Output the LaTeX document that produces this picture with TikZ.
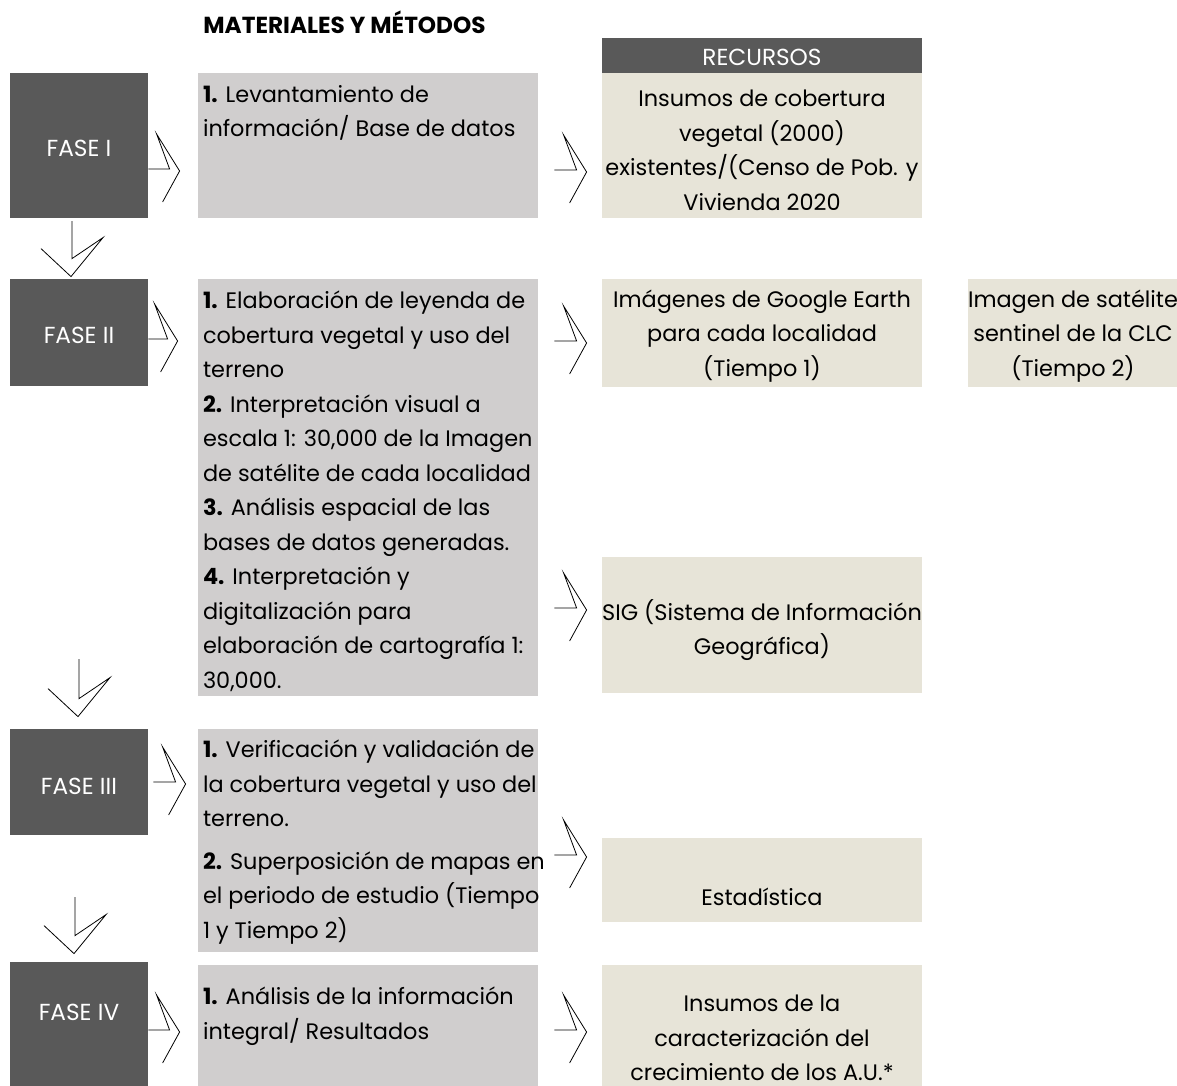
\documentclass[tikz,border=0pt]{standalone}
\usepackage{fontspec}
\setmainfont{Poppins}
\usepackage{tikz}
\usetikzlibrary{calc, fit, positioning}
\definecolor{fasegrey}{HTML}{595959}
\definecolor{taskgrey}{HTML}{D0CECE}
\definecolor{resbeige}{HTML}{E7E4D8}
\tikzset{
    fasenode/.style = {draw=none, fill=fasegrey, rectangle, inner sep=0pt},
    tasknode/.style = {draw=none, fill=taskgrey, rectangle, inner sep=0pt},
    resnode/.style = {draw=none, fill=resbeige, rectangle, inner sep=0pt},
    textnode/.style = {draw=none, fill=none, rectangle, inner sep=0pt, align=left,
      anchor=north west, font=\fontsize{11.2}{17.25}\selectfont},
    centertext/.style = {draw=none, fill=none, rectangle, inner sep=0pt, align=center,
      anchor=center, font=\fontsize{11.2}{17.25}\selectfont},
    whitetext/.style = {centertext, text=white, font=\fontsize{11.6}{14}\selectfont},
    chev/.style = {line width=0.9pt, to path={-- ($(\tikztostart -| \tikztotarget.west)+(-#1,0)$)
      -- ++(-13,-35) -- ++(23,37) -- ++(-17,31)}},
    chev/.default = 26,
    chevdown/.style = {line width=0.9pt, to path={-- ($(\tikztostart |- \tikztotarget.north)+(0,-#1)$)
      -- ++(31,-21) -- ++(-32,39) -- ++(-30,-28)}},
    chevdown/.default = 22
}

\begin{document}
\begin{tikzpicture}[x=0.5pt, y=-0.5pt]
\fill [white] (0,0) rectangle (1177,1086);
\useasboundingbox (0,0) rectangle (1177,1086);

\node [textnode, anchor=base west, font=\bfseries\fontsize{11.6}{14}\selectfont, name=title] at (203,34) {MATERIALES Y MÉTODOS};

% fases
\node [fasenode, fit={(10,73) (148,218)}, name=F1] {};
\node [fasenode, fit={(10,279) (148,386)}, name=F2] {};
\node [fasenode, fit={(10,729) (148,835)}, name=F3] {};
\node [fasenode, fit={(10,962) (148,1092)}, name=F4] {};
\node [whitetext, name=F1t] at ($(F1.center)+(0,3)$) {FASE I};
\node [whitetext, name=F2t] at ($(F2.center)+(0,3)$) {FASE II};
\node [whitetext, name=F3t] at ($(F3.center)+(0,4)$) {FASE III};
\node [whitetext, name=F4t] at ($(F4.north)+(0,51)$) {FASE IV};

% actividades
\node [tasknode, fit={(198,73) (538,218)}, name=B1] {};
\node [textnode, name=B1t] at ($(B1.north west)+(5,12)$) {\textbf{1.} Levantamiento de\\información/ Base de datos};

\node [tasknode, fit={(198,279) (538,696)}, name=B2] {};
\node [textnode, name=B2t] at ($(B2.north west)+(5,12)$) {\textbf{1.} Elaboración de leyenda de\\cobertura vegetal y uso del\\terreno\\
\textbf{2.} Interpretación visual a\\escala 1: 30,000 de la Imagen\\de satélite de cada localidad\\
\textbf{3.} Análisis espacial de las\\bases de datos generadas.\\
\textbf{4.} Interpretación y\\digitalización para\\elaboración de cartografía 1:\\30,000.};

\node [tasknode, fit={(198,729) (538,952)}, name=B3] {};
\node [textnode, name=B3t] at ($(B3.north west)+(5,11)$) {\textbf{1.} Verificación y validación de\\la cobertura vegetal y uso del\\terreno.\\[4pt]
\textbf{2.} Superposición de mapas en\\el periodo de estudio (Tiempo\\1 y Tiempo 2)};

\node [tasknode, fit={(198,965) (538,1092)}, name=B4] {};
\node [textnode, name=B4t] at ($(B4.north west)+(5,22)$) {\textbf{1.} Análisis de la información\\integral/ Resultados};

% recursos
\node [fasenode, fit={(602,38) (922,73)}, name=head] {};
\node [whitetext, name=headt] at ($(head.center)+(0,2)$) {RECURSOS};
\node [resnode, fit={(602,73) (922,218)}, name=R1] {};
\node [centertext, name=R1t] at ($(R1.center)+(0,5)$) {Insumos de cobertura\\vegetal (2000)\\existentes/(Censo de Pob. y\\Vivienda 2020};
\node [resnode, fit={(602,279) (922,387)}, name=R2] {};
\node [centertext, name=R2t] at ($(R2.center)+(0,3)$) {Imágenes de Google Earth\\para cada localidad\\(Tiempo 1)};
\node [resnode, fit={(968,279) (1185,387)}, name=R3] {};
\node [centertext, name=R3t] at (1073,336) {Imagen de satélite\\sentinel de la CLC\\(Tiempo 2)};
\node [resnode, fit={(602,557) (922,693)}, name=R4] {};
\node [centertext, name=R4t] at ($(R4.center)+(0,5)$) {SIG (Sistema de Información\\Geográfica)};
\node [resnode, fit={(602,838) (922,922)}, name=R5] {};
\node [centertext, name=R5t] at ($(R5.center)+(0,17)$) {Estadística};
\node [resnode, fit={(602,965) (922,1111)}, name=R6] {};
\node [centertext, name=R6t] at ($(R6.center)+(0,0)$) {Insumos de la\\caracterización del\\crecimiento de los A.U.*};

% flechas
\coordinate (a1) at (F1.east |- 0,169);
\coordinate (a2) at (F2.east |- 0,339);
\coordinate (a3) at ($(F3.east |- 0,782)+(5,0)$);
\coordinate (a4) at (F4.east |- 0,1030);
\draw (a1) to [chev=28] (B1);
\draw (a2) to [chev=30] (B2);
\draw (a3) to [chev=22] (B3);
\draw (a4) to [chev=28] (B4);

\coordinate (r1) at ($(B1.east |- 0,170)+(16,0)$);
\coordinate (r2) at ($(B2.east |- 0,341)+(16,0)$);
\coordinate (r3) at ($(B2.east |- 0,608)+(16,0)$);
\coordinate (r4) at ($(B3.east |- 0,855)+(16,0)$);
\coordinate (r5) at ($(B4.east |- 0,1030)+(16,0)$);
\draw (r1) to [chev=25] (R1);
\draw (r2) to [chev=25] (R2);
\draw (r3) to [chev=25] (R4);
\draw (r4) to [chev=25] (R5);
\draw (r5) to [chev=25] (R6);

\coordinate (d1) at (72,221);
\coordinate (d2) at (79,659);
\coordinate (d3) at (75,897);
\draw (d1) to [chevdown=20] (F2);
\draw (d2) to [chevdown=30] (F3);
\draw (d3) to [chevdown=26] (F4);

\end{tikzpicture}
\end{document}
